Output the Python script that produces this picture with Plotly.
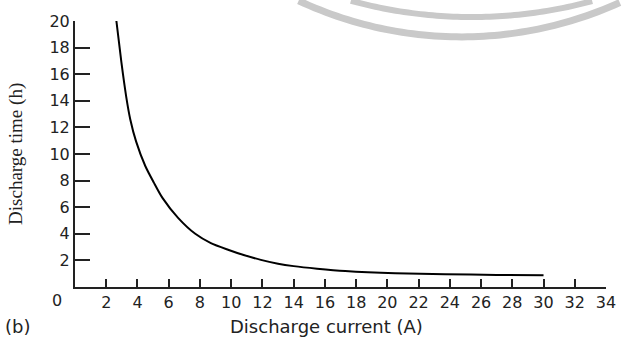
import numpy as np
import plotly.graph_objects as go

# Data
current = [2.65, 2.97, 3.28, 3.54, 3.91, 4.5, 5.05, 5.6, 6.6, 7.7, 8.7, 9.8, 10.8, 11.9,
           13.0, 14.0, 15.5, 17.3, 20.5, 23.7, 27.0, 30.0]
time_h = [20.0, 16.9, 14.3, 12.6, 10.95, 9.1, 7.85, 6.7, 5.2, 4.0, 3.3, 2.8, 2.4, 2.04,
          1.75, 1.57, 1.38, 1.2, 1.03, 0.96, 0.91, 0.88]
x_ticks = list(range(2, 35, 2))
y_ticks = list(range(2, 21, 2))

W, H = 628, 348
L, R, T, B = 75, 14, 19, 61
pw, ph = W - L - R, H - T - B


def px2paper(px, py):
    return (px - L) / pw, (H - B - py) / ph


def arc_path(cx, cy, r, x0, x1, n=60):
    pts = []
    for px in np.linspace(x0, x1, n):
        py = cy + np.sqrt(max(r * r - (px - cx) ** 2, 0))
        ux, uy = px2paper(px, py)
        pts.append(f"{ux:.5f},{uy:.5f}")
    return "M" + " L".join(pts)


fig = go.Figure()
fig.add_trace(go.Scatter(
    x=current, y=time_h, mode="lines",
    line=dict(color="black", width=2, shape="spline", smoothing=0.7),
    showlegend=False, hoverinfo="skip",
))

axis_font = dict(family="DejaVu Sans", size=16, color="#222")
fig.update_xaxes(
    range=[0, 34], tickvals=x_ticks, ticktext=[str(v) for v in x_ticks],
    ticks="inside", ticklen=8, tickwidth=2, tickcolor="#222",
    showline=True, linecolor="#222", linewidth=2,
    showgrid=False, zeroline=False, tickfont=axis_font,
)
fig.update_yaxes(
    range=[0, 20], tickvals=y_ticks, ticktext=[str(v) for v in y_ticks],
    ticks="inside", ticklen=15, tickwidth=2, tickcolor="#222",
    showline=True, linecolor="#222", linewidth=2,
    showgrid=False, zeroline=False, tickfont=axis_font,
)

ann = []
x0p, y0p = px2paper(57, 301)
ann.append(dict(text="0", x=x0p, y=y0p, xref="paper", yref="paper",
                showarrow=False, font=axis_font, xanchor="center", yanchor="middle"))
xtp, ytp = px2paper(330, 327)
ann.append(dict(text="Discharge current (A)", x=xtp, y=ytp, xref="paper", yref="paper",
                showarrow=False, font=dict(family="DejaVu Sans", size=18, color="#222"),
                xanchor="center", yanchor="middle"))
ylp, yly = px2paper(15, 153)
ann.append(dict(text="Discharge time (h)", x=ylp, y=yly, xref="paper", yref="paper",
                showarrow=False, textangle=-90,
                font=dict(family="Liberation Serif", size=19, color="#222"),
                xanchor="center", yanchor="middle"))
bp, by = px2paper(2, 327)
ann.append(dict(text="(b)", x=bp, y=by, xref="paper", yref="paper",
                showarrow=False, font=dict(family="DejaVu Sans", size=18, color="#222"),
                xanchor="left", yanchor="middle"))

shapes = [
    dict(type="path", xref="paper", yref="paper",
         path=arc_path(467, -357, 392, 302, 628), line=dict(color="#c9c9c9", width=7)),
    dict(type="path", xref="paper", yref="paper",
         path=arc_path(478, -455, 470, 355, 600), line=dict(color="#c9c9c9", width=6)),
]

fig.update_layout(
    width=W, height=H,
    margin=dict(l=L, r=R, t=T, b=B),
    paper_bgcolor="white", plot_bgcolor="white",
    annotations=ann, shapes=shapes,
)

fig.write_html("out.html")
